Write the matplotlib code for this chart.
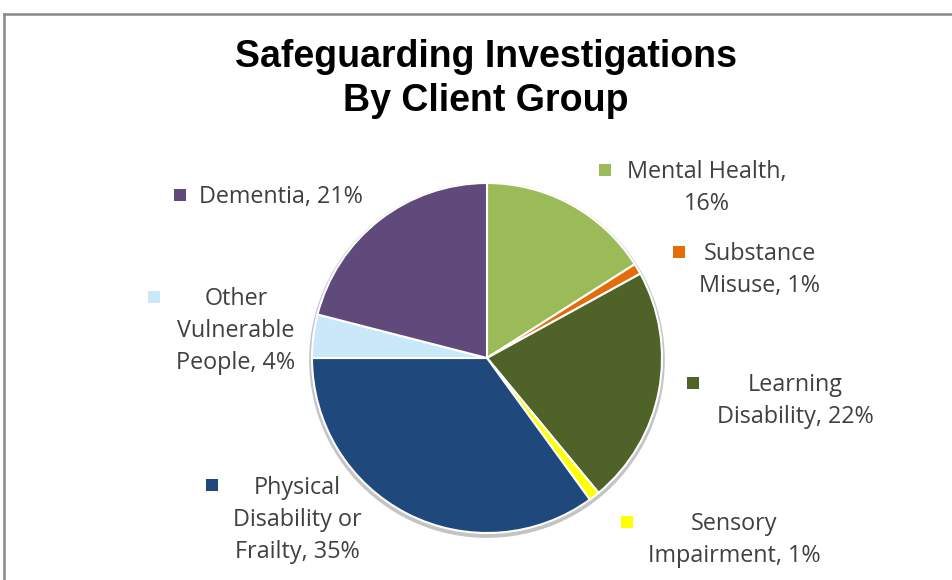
import matplotlib
matplotlib.use("Agg")
import matplotlib.pyplot as plt
from matplotlib.patches import Circle, Rectangle
from matplotlib.lines import Line2D

categories = ["Mental Health", "Substance Misuse", "Learning Disability",
              "Sensory Impairment", "Physical Disability or Frailty",
              "Other Vulnerable People", "Dementia"]
values = [16, 1, 22, 1, 35, 4, 21]
colors = ["#9BBB59", "#E46C0A", "#4F6228", "#FFFF00", "#1F497D", "#C9E9FB", "#604A7B"]
title_lines = ["Safeguarding Investigations", "By Client Group"]

# layout (pixels): words per line, text center x, first line y, marker x, marker y
word_counts = [[2, 1], [1, 2], [1, 2], [1, 2], [1, 2, 2], [1, 1, 2], [2]]
text_pos = [(707, 172), (760, 254), (795, 385), (734, 524), (297, 488), (236, 299), (282, 197)]
marker_pos = [(605, 170), (679, 252), (693, 383), (627, 522), (212, 485), (154, 297), (180, 195)]

W, H = 953, 580
fig = plt.figure(figsize=(W / 100, H / 100), dpi=100)
fig.patch.set_facecolor("white")

def fx(x):
    return x / W

def fy(y):
    return 1 - y / H

# frame
fig.add_artist(Line2D([fx(4), fx(4)], [fy(14), fy(580)], color="#888888", lw=1.8))
fig.add_artist(Line2D([fx(4), fx(953)], [fy(14), fy(14)], color="#888888", lw=1.8))

cx, cy, r = 487, 358, 175
pad = 1.03
ax = fig.add_axes([fx(cx - r * pad), fy(cy + r * pad), 2 * r * pad / W, 2 * r * pad / H])
ax.axis("off")
ax.add_patch(Circle((0.0, -0.012), 1.012, color="#c4c4c4", zorder=0))
ax.pie(values, colors=colors, startangle=90, counterclock=False, radius=1.0,
       wedgeprops=dict(edgecolor="white", linewidth=1.5), frame=False)
ax.set_aspect("equal")
ax.set_xlim(-pad, pad)
ax.set_ylim(-pad, pad)

for line, ty in zip(title_lines, [57, 101]):
    fig.text(fx(486), fy(ty), line, ha="center", va="center", fontsize=27,
             fontweight="bold", family="Liberation Sans", color="black")

fam = "Open Sans"
fs = 16.8
lh = 32
for cat, v, wc, (tx, ty), (mx, my), col in zip(categories, values, word_counts,
                                                text_pos, marker_pos, colors):
    words = f"{cat}, {v}%".split(" ")
    lines = []
    i = 0
    for n in wc:
        lines.append(" ".join(words[i:i + n]))
        i += n
    for k, line in enumerate(lines):
        if cat == "Dementia":
            fig.text(fx(199), fy(ty + k * lh), line, ha="left", va="center",
                     fontsize=fs, family=fam, color="#404040")
        else:
            fig.text(fx(tx), fy(ty + k * lh), line, ha="center", va="center",
                     fontsize=fs, family=fam, color="#404040")
    s = 12
    fig.add_artist(Rectangle((fx(mx - s / 2), fy(my + s / 2)), s / W, s / H,
                             facecolor=col, edgecolor="none"))

fig.savefig("out.png", dpi=100)
